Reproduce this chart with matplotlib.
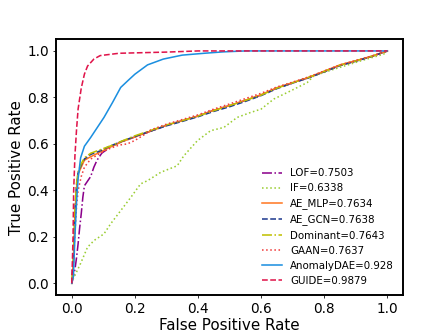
import matplotlib
matplotlib.use("Agg")
import matplotlib.pyplot as plt

# ---- data ----
lof_fpr = [0, 0.005, 0.01, 0.015, 0.02, 0.025, 0.03, 0.035, 0.04, 0.05, 0.06, 0.07, 0.08, 0.095, 0.12, 0.15,
           0.2, 0.25, 0.3, 0.35, 0.4, 0.45, 0.5, 0.55, 0.6, 0.65, 0.7, 0.75, 0.8, 0.85, 0.9, 0.95, 1.0]
lof_tpr = [0, 0.03, 0.06, 0.11, 0.17, 0.24, 0.30, 0.37, 0.42, 0.44, 0.46, 0.50, 0.53, 0.56, 0.585, 0.605,
           0.63, 0.655, 0.68, 0.70, 0.72, 0.745, 0.765, 0.787, 0.81, 0.84, 0.862, 0.885, 0.912, 0.938, 0.957, 0.977, 1.0]

if_fpr = [0, 0.002, 0.013, 0.028, 0.05, 0.071, 0.102, 0.123, 0.155, 0.187, 0.218, 0.24, 0.282, 0.334, 0.355,
          0.398, 0.44, 0.482, 0.524, 0.566, 0.6, 0.64, 0.693, 0.746, 0.767, 0.83, 0.915, 0.988, 1.0]
if_tpr = [0, 0.013, 0.043, 0.086, 0.156, 0.185, 0.213, 0.256, 0.313, 0.37, 0.428, 0.442, 0.478, 0.506, 0.549,
          0.614, 0.657, 0.671, 0.714, 0.735, 0.75, 0.793, 0.828, 0.864, 0.893, 0.921, 0.957, 0.986, 1.0]

mlp_fpr = [0, 0.005, 0.01, 0.015, 0.02, 0.03, 0.04, 0.06, 0.09, 0.12, 0.16, 0.2, 0.25, 0.3, 0.35, 0.4, 0.45,
           0.5, 0.55, 0.6, 0.65, 0.7, 0.75, 0.8, 0.85, 0.9, 0.95, 1.0]
mlp_tpr = [0, 0.10, 0.30, 0.41, 0.47, 0.50, 0.53, 0.545, 0.565, 0.585, 0.61, 0.63, 0.655, 0.68, 0.70, 0.72, 0.745,
           0.765, 0.788, 0.812, 0.842, 0.864, 0.886, 0.913, 0.94, 0.958, 0.977, 1.0]

gcn_fpr = [0, 0.005, 0.01, 0.015, 0.02, 0.03, 0.04, 0.06, 0.09, 0.12, 0.16, 0.2, 0.25, 0.3, 0.35, 0.4, 0.45,
           0.5, 0.55, 0.6, 0.65, 0.7, 0.75, 0.8, 0.85, 0.9, 0.95, 1.0]
gcn_tpr = [0, 0.12, 0.31, 0.42, 0.475, 0.51, 0.535, 0.555, 0.57, 0.59, 0.612, 0.632, 0.655, 0.678, 0.697, 0.717, 0.74,
           0.76, 0.783, 0.808, 0.838, 0.862, 0.884, 0.91, 0.937, 0.956, 0.976, 1.0]

dom_fpr = [0, 0.005, 0.01, 0.015, 0.02, 0.03, 0.04, 0.06, 0.09, 0.12, 0.16, 0.2, 0.25, 0.3, 0.35, 0.4, 0.45,
           0.5, 0.55, 0.6, 0.65, 0.7, 0.75, 0.8, 0.85, 0.9, 0.95, 1.0]
dom_tpr = [0, 0.12, 0.32, 0.43, 0.48, 0.515, 0.54, 0.56, 0.575, 0.59, 0.613, 0.635, 0.658, 0.682, 0.70, 0.72, 0.743,
           0.765, 0.787, 0.81, 0.84, 0.863, 0.886, 0.912, 0.939, 0.957, 0.977, 1.0]

gaan_fpr = [0, 0.005, 0.01, 0.015, 0.02, 0.03, 0.04, 0.06, 0.09, 0.12, 0.15, 0.176, 0.2, 0.23, 0.25, 0.3, 0.35, 0.4, 0.45,
            0.5, 0.55, 0.6, 0.65, 0.7, 0.75, 0.8, 0.85, 0.9, 0.95, 1.0]
gaan_tpr = [0, 0.08, 0.22, 0.33, 0.40, 0.46, 0.50, 0.535, 0.56, 0.58, 0.595, 0.60, 0.615, 0.64, 0.66, 0.685, 0.705, 0.725, 0.75,
            0.772, 0.795, 0.818, 0.845, 0.866, 0.888, 0.914, 0.94, 0.959, 0.978, 1.0]

dae_fpr = [0, 0.005, 0.01, 0.015, 0.02, 0.028, 0.04, 0.06, 0.081, 0.102, 0.129, 0.155, 0.18, 0.2, 0.24, 0.29,
           0.35, 0.42, 0.48, 0.55, 1.0]
dae_tpr = [0, 0.03, 0.2, 0.35, 0.45, 0.54, 0.59, 0.628, 0.671, 0.714, 0.778, 0.843, 0.875, 0.90, 0.94, 0.965,
           0.982, 0.99, 0.996, 1.0, 1.0]

guide_fpr = [0, 0.004, 0.006, 0.01, 0.015, 0.02, 0.03, 0.04, 0.05, 0.07, 0.09, 0.15, 0.3, 0.4, 1.0]
guide_tpr = [0, 0.2, 0.4, 0.55, 0.66, 0.75, 0.84, 0.9, 0.935, 0.965, 0.98, 0.99, 0.995, 1.0, 1.0]

labels = ["LOF=0.7503", "IF=0.6338", "AE_MLP=0.7634", "AE_GCN=0.7638",
          "Dominant=0.7643", "GAAN=0.7637", "AnomalyDAE=0.928", "GUIDE=0.9879"]
colors = ["#8b008b", "#9acd32", "#ff7722", "#1f3a8f", "#bfbf00", "#f03c3c", "#1b8fe0", "#e0144a"]
styles = ["-.", ":", "-", "--", "-.", ":", "-", "--"]

series = [(lof_fpr, lof_tpr), (if_fpr, if_tpr), (mlp_fpr, mlp_tpr), (gcn_fpr, gcn_tpr),
          (dom_fpr, dom_tpr), (gaan_fpr, gaan_tpr), (dae_fpr, dae_tpr), (guide_fpr, guide_tpr)]

fig, ax = plt.subplots(figsize=(6.4, 4.8), dpi=70)
fig.subplots_adjust(left=0.125, right=0.9, bottom=0.122, top=0.883)
for (fx, ty), lab, c, ls in zip(series, labels, colors, styles):
    ax.plot(fx, ty, linestyle=ls, color=c, linewidth=1.6, label=lab)

ax.set_xlabel("False Positive Rate", fontsize=15.5, labelpad=2)
ax.set_ylabel("True Positive Rate", fontsize=15.5)
ax.set_xticks([0, 0.2, 0.4, 0.6, 0.8, 1.0])
ax.set_yticks([0, 0.2, 0.4, 0.6, 0.8, 1.0])
ax.tick_params(labelsize=14)
for s in ax.spines.values():
    s.set_linewidth(2)
ax.legend(loc="lower right", frameon=False, fontsize=10.5)
fig.savefig("out.png", dpi=70)
